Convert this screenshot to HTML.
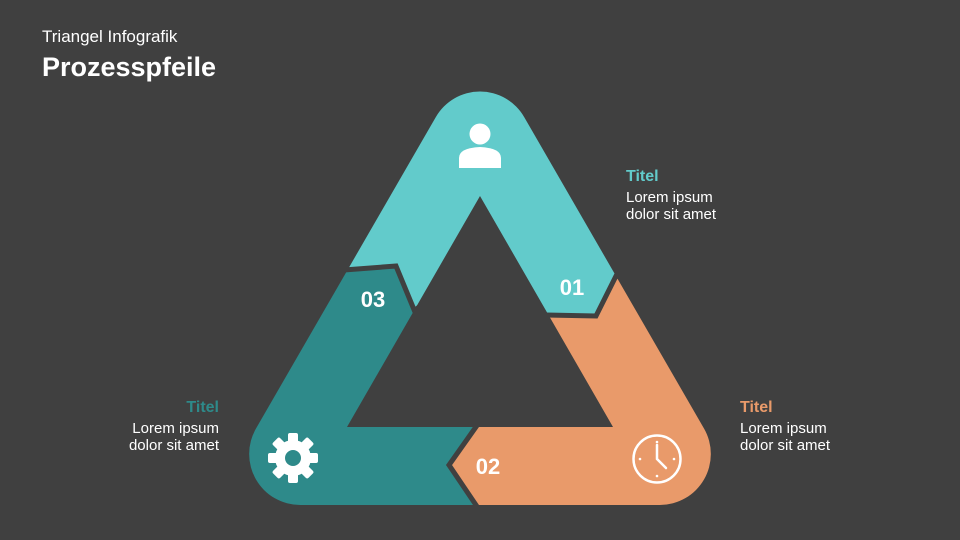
<!DOCTYPE html>
<html><head><meta charset="utf-8"><style>
html,body{margin:0;padding:0;background:#404040;}
svg{display:block}
</style></head><body>
<svg width="960" height="540" viewBox="0 0 960 540" xmlns="http://www.w3.org/2000/svg" font-family="Liberation Sans, sans-serif">
<rect width="960" height="540" fill="#404040"/>
<defs>
<path id="ring" fill-rule="evenodd" d="M435.8,117.1 A51,51 0 0 1 524.2,117.1 L704,428.5 A51,51 0 0 1 659.8,505 L300.2,505 A51,51 0 0 1 256,428.5 Z M480,196 L347,427 L613,427 Z"/>
<clipPath id="c1"><polygon points="548,314 596,316 616,275 650,205 650,0 310,0 300,274 348,270 396,266 414,308 480,250"/></clipPath>
<clipPath id="c2"><polygon points="548,314 596,316 616,275 650,205 960,205 960,540 476,540 476,505 449,465 476,427 520,380"/></clipPath>
<clipPath id="c3"><polygon points="476,427 449,465 476,505 476,540 0,540 0,274 300,274 348,270 396,266 414,308 440,380"/></clipPath>
</defs>
<use href="#ring" fill="#62CBCB" clip-path="url(#c1)"/>
<use href="#ring" fill="#E99A6A" clip-path="url(#c2)"/>
<use href="#ring" fill="#2E8A8A" clip-path="url(#c3)"/>
<g fill="none" stroke="#404040" stroke-width="5" stroke-linejoin="miter">
<polyline points="546,315 596,316 620,268"/>
<polyline points="478,424 449,465 478,508"/>
<polyline points="344,270 396,266 415,312"/>
</g>
<g fill="#fff">
<circle cx="480" cy="134" r="10.5"/>
<path d="M459,168 L459,158 Q459,148 480,147 Q501,148 501,158 L501,168 Z"/>
</g>
<g transform="translate(293,458)" fill="#fff">
<circle r="18"/>
<g>
<rect x="-5" y="-25" width="10" height="10" rx="2"/>
<rect x="-5" y="-25" width="10" height="10" rx="2" transform="rotate(45)"/>
<rect x="-5" y="-25" width="10" height="10" rx="2" transform="rotate(90)"/>
<rect x="-5" y="-25" width="10" height="10" rx="2" transform="rotate(135)"/>
<rect x="-5" y="-25" width="10" height="10" rx="2" transform="rotate(180)"/>
<rect x="-5" y="-25" width="10" height="10" rx="2" transform="rotate(225)"/>
<rect x="-5" y="-25" width="10" height="10" rx="2" transform="rotate(270)"/>
<rect x="-5" y="-25" width="10" height="10" rx="2" transform="rotate(315)"/>
</g>
<circle r="8" fill="#2E8A8A"/>
</g>
<g transform="translate(657,459)" stroke="#fff" fill="none" stroke-width="2.5">
<circle r="23.5"/>
<polyline points="0,-14 0,0 9,9" stroke-width="2.5" stroke-linecap="round"/>
<g fill="#fff" stroke="none">
<circle cx="0" cy="-17" r="1.3"/><circle cx="0" cy="17" r="1.3"/><circle cx="-17" cy="0" r="1.3"/><circle cx="17" cy="0" r="1.3"/>
</g>
</g>
<g fill="#fff" font-weight="bold" font-size="22" text-anchor="middle">
<text x="572" y="295">01</text>
<text x="373" y="307">03</text>
<text x="488" y="474">02</text>
</g>
<text x="42" y="42" fill="#fff" font-size="17">Triangel Infografik</text>
<text x="42" y="76" fill="#fff" font-size="27" font-weight="bold">Prozesspfeile</text>
<g font-size="15" fill="#fff">
<text x="626" y="181" fill="#62CBCB" font-weight="bold" font-size="16">Titel</text>
<text x="626" y="202">Lorem ipsum</text>
<text x="626" y="219">dolor sit amet</text>
<text x="740" y="412" fill="#E99A6A" font-weight="bold" font-size="16">Titel</text>
<text x="740" y="433">Lorem ipsum</text>
<text x="740" y="450">dolor sit amet</text>
<g text-anchor="end">
<text x="219" y="412" fill="#2E8A8A" font-weight="bold" font-size="16">Titel</text>
<text x="219" y="433">Lorem ipsum</text>
<text x="219" y="450">dolor sit amet</text>
</g>
</g>
</svg>
</body></html>
